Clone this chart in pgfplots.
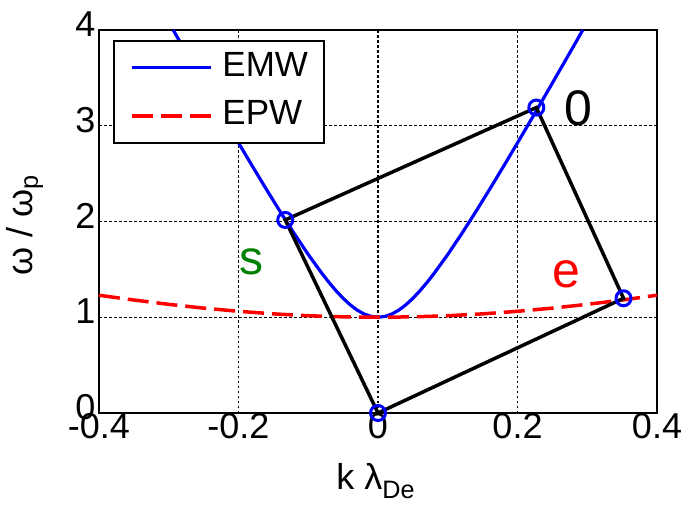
\documentclass[border=0pt]{standalone}
\usepackage{fontspec}
\setmainfont{Liberation Sans}
\usepackage{pgfplots}
\pgfplotsset{compat=1.18}
\definecolor{sgreen}{RGB}{0,128,0}
\begin{document}
\begin{tikzpicture}
\begin{axis}[
  scale only axis, width=558pt, height=383pt,
  xmin=-0.4, xmax=0.4, ymin=0, ymax=4,
  clip=false,
  xtick={-0.4,-0.2,0,0.2,0.4}, xticklabels={-0.4,-0.2,0,0.2,0.4},
  ytick={0,1,2,3,4}, yticklabels={0,1,2,3,4},
  major tick length=0pt,
  grid=major,
  grid style={black, line width=1.2pt, dash pattern=on 2.5pt off 2.5pt},
  axis line style={line width=2.5pt},
  tick label style={font=\fontsize{36}{43}\selectfont},
  xticklabel style={yshift=3pt},
  yticklabel style={yshift=6pt},
  xlabel={k λ\textsubscript{De}},
  ylabel={ω / ω\textsubscript{p}},
  label style={font=\fontsize{36}{43}\selectfont, inner sep=0pt},
  xlabel style={at={(axis description cs:0.496,-0.1305)}, anchor=north},
  ylabel style={at={(axis description cs:-0.1183,0.49)}, anchor=base, rotate=0},
  legend style={at={(axis description cs:0.0251,0.974)}, anchor=north west,
    draw=black, line width=1.8pt, fill=white,
    font=\fontsize{35}{42}\selectfont,
    inner xsep=16pt, inner ysep=10pt, row sep=14pt, column sep=10pt,
    nodes={inner sep=0pt, text height=26pt, text depth=8pt},
    cells={anchor=west}},
  legend image code/.code={\draw[#1] (0pt,0pt) -- (79pt,0pt);},
]
\addplot[blue, line width=3.2pt] coordinates {
(-0.2936,4) (-0.28,3.8262) (-0.26,3.5724) (-0.24,3.3200) (-0.22,3.0695)
(-0.20,2.8213) (-0.18,2.5764) (-0.16,2.3355) (-0.14,2.1001) (-0.12,1.8723)
(-0.10,1.6553) (-0.08,1.4538) (-0.07,1.3611) (-0.06,1.2754) (-0.05,1.1979)
(-0.04,1.1307) (-0.03,1.0752) (-0.02,1.0342) (-0.01,1.0087) (0,1)
(0.01,1.0087) (0.02,1.0342) (0.03,1.0752) (0.04,1.1307) (0.05,1.1979)
(0.06,1.2754) (0.07,1.3611) (0.08,1.4538) (0.10,1.6553) (0.12,1.8723)
(0.14,2.1001) (0.16,2.3355) (0.18,2.5764) (0.20,2.8213) (0.22,3.0695)
(0.24,3.3200) (0.26,3.5724) (0.28,3.8262) (0.2936,4)
};
\addlegendentry{EMW}
\addplot[red, line width=3.5pt, dash pattern=on 21pt off 8pt] coordinates {
(-0.40,1.2298) (-0.35,1.1798) (-0.30,1.1349) (-0.25,1.0954) (-0.20,1.0621)
(-0.15,1.0354) (-0.10,1.0159) (-0.05,1.0040) (0,1)
(0.05,1.0040) (0.10,1.0159) (0.15,1.0354) (0.20,1.0621) (0.25,1.0954)
(0.30,1.1349) (0.35,1.1798) (0.40,1.2298)
};
\addlegendentry{EPW}
\addplot[black, line width=3.5pt, forget plot] coordinates {
(0,0) (0.352,1.198) (0.227,3.19) (-0.133,2.016) (0,0)
};
\addplot[only marks, blue, mark=o, mark size=7.5pt, line width=3pt, forget plot] coordinates {
(0,0) (0.352,1.198) (0.227,3.19) (-0.133,2.016)
};
\node[font=\fontsize{50}{60}\selectfont, black] at (axis cs:0.288,3.185) {0};
\node[font=\fontsize{48}{58}\selectfont, text=sgreen] at (axis cs:-0.182,1.58) {s};
\node[font=\fontsize{50}{60}\selectfont, red] at (axis cs:0.2695,1.45) {e};
\end{axis}
\pgfresetboundingbox
\path ([shift={(-99pt,-100pt)}]current axis.south west) rectangle ([shift={(26pt,30pt)}]current axis.north east);
\end{tikzpicture}
\end{document}
